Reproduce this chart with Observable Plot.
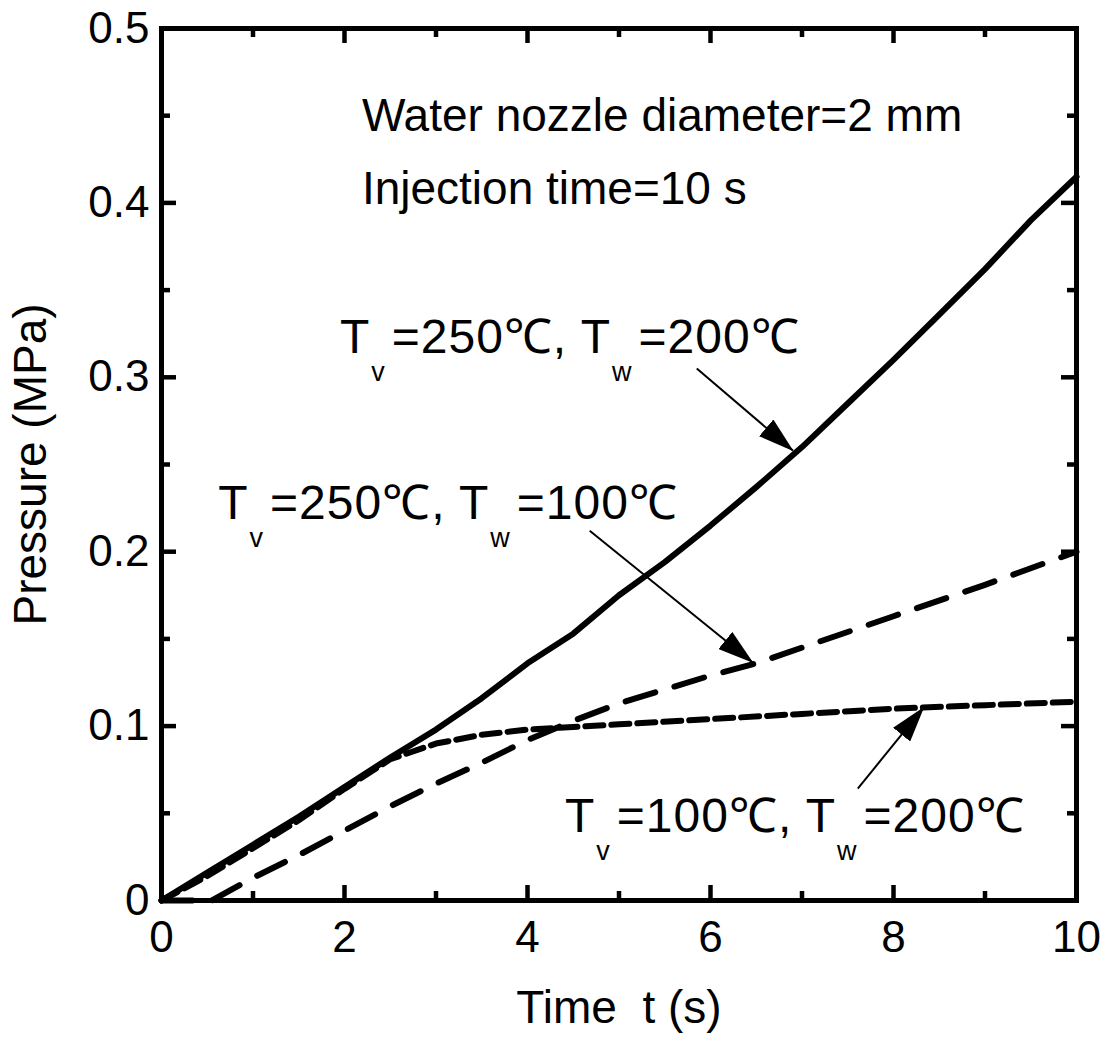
<!DOCTYPE html>
<html><head><meta charset="utf-8">
<script src="https://cdn.jsdelivr.net/npm/d3@7"></script>
<script src="https://cdn.jsdelivr.net/npm/@observablehq/plot@0.6"></script>
<style>
body{margin:0;background:#fff;}
#chart svg{font-family:"Liberation Sans",Arial,Helvetica,sans-serif;}
</style>
</head><body><div id="chart"></div>
<script>
// Series: Tv=250℃, Tw=200℃ (solid)
const timeA = [0,0.5,1,1.5,2,2.5,3,3.5,4,4.5,5,5.5,6,6.5,7,7.5,8,8.5,9,9.5,10];
const presA = [0,0.016,0.032,0.048,0.065,0.082,0.098,0.116,0.136,0.153,0.175,0.194,0.215,0.237,0.26,0.285,0.31,0.336,0.362,0.39,0.415];
// Series: Tv=250℃, Tw=100℃ (dashed)
const timeB = [0,0.55,1,1.5,2,2.5,3,3.5,4,4.5,5,5.5,6,6.5,7,8,9,10];
const presB = [0,0,0.013,0.026,0.04,0.054,0.067,0.079,0.092,0.103,0.113,0.121,0.129,0.136,0.145,0.163,0.181,0.2];
// Series: Tv=100℃, Tw=200℃ (short dashes)
const timeC = [0,0.5,1,1.5,2,2.5,3,3.5,4,5,6,7,8,9,10];
const presC = [0,0.014,0.03,0.046,0.064,0.081,0.09,0.095,0.098,0.101,0.104,0.107,0.11,0.112,0.114];

const xMajor = [0,2,4,6,8,10];
const xMinor = [1,3,5,7,9];
const yMajor = [0,0.1,0.2,0.3,0.4,0.5];
const yMinor = [0.05,0.15,0.25,0.35,0.45];
const yLabels = ["0","0.1","0.2","0.3","0.4","0.5"];

const notes = ["Water nozzle diameter=2 mm","Injection time=10 s"];
const notesX = [2.19,2.19];
const notesY = [0.4415,0.3995];

const labels = ["T_v=250℃, T_w=200℃","T_v=250℃, T_w=100℃","T_v=100℃, T_w=200℃"];
const labelX = [1.95,0.62,4.41];
const labelY = [0.3142,0.219,0.039];

const arrowX1 = [5.85,4.68,7.61];
const arrowY1 = [0.305,0.212,0.0642];
const arrowX2 = [6.90,6.46,8.33];
const arrowY2 = [0.258,0.1365,0.1107];

const W = 1109, H = 1037;
const mL = 161, mR = 33, mT = 28, mB = 137;
const innerW = W - mL - mR, innerH = H - mT - mB;

const dA = timeA.map((t,i)=>({t, p: presA[i]}));
const dB = timeB.map((t,i)=>({t, p: presB[i]}));
const dC = timeC.map((t,i)=>({t, p: presC[i]}));
const dNotes = notes.map((s,i)=>({s, x: notesX[i], y: notesY[i]}));
const dLabels = labels.map((s,i)=>({s, x: labelX[i], y: labelY[i]}));
const dArrows = arrowX1.map((x1,i)=>({x1, y1: arrowY1[i], x2: arrowX2[i], y2: arrowY2[i]}));

const majorLen = 15, minorLen = 9, tickW = 4.5;

const plot = Plot.plot({
  width: W, height: H,
  marginLeft: mL, marginRight: mR, marginTop: mT, marginBottom: mB,
  style: {fontFamily: '"Liberation Sans",Arial,Helvetica,sans-serif', background: "#fff", color: "#000"},
  x: {domain: [0,10], ticks: xMajor, label: null},
  y: {domain: [0,0.5], ticks: yMajor, label: null},
  marks: [
    // ticks (inward, all four sides)
    Plot.tickX(xMajor, {x: d=>d, insetTop: innerH - majorLen, stroke: "#000", strokeWidth: tickW}),
    Plot.tickX(xMinor, {x: d=>d, insetTop: innerH - minorLen, stroke: "#000", strokeWidth: tickW}),
    Plot.tickX(xMajor, {x: d=>d, insetBottom: innerH - majorLen, stroke: "#000", strokeWidth: tickW}),
    Plot.tickX(xMinor, {x: d=>d, insetBottom: innerH - minorLen, stroke: "#000", strokeWidth: tickW}),
    Plot.tickY(yMajor, {y: d=>d, insetRight: innerW - majorLen, stroke: "#000", strokeWidth: tickW}),
    Plot.tickY(yMinor, {y: d=>d, insetRight: innerW - minorLen, stroke: "#000", strokeWidth: tickW}),
    Plot.tickY(yMajor, {y: d=>d, insetLeft: innerW - majorLen, stroke: "#000", strokeWidth: tickW}),
    Plot.tickY(yMinor, {y: d=>d, insetLeft: innerW - minorLen, stroke: "#000", strokeWidth: tickW}),
    Plot.axisX({ticks: xMajor, tickSize: 0, tickPadding: 20, fontSize: 44, label: "Time  t (s)", labelAnchor: "center", labelArrow: "none", labelOffset: 122}),
    Plot.axisY({ticks: yMajor, tickSize: 0, tickPadding: 12, fontSize: 44, tickFormat: (d)=>yLabels[yMajor.indexOf(d)], label: "Pressure (MPa)", labelAnchor: "center", labelArrow: "none", labelOffset: 148}),
    // data lines
    Plot.line(dC, {x: "t", y: "p", stroke: "#000", strokeWidth: 6, strokeDasharray: "18,8"}),
    Plot.line(dB, {x: "t", y: "p", stroke: "#000", strokeWidth: 6, strokeDasharray: "31,20"}),
    Plot.line(dA, {x: "t", y: "p", stroke: "#000", strokeWidth: 6}),
    // annotation arrows
    Plot.link(dArrows, {x1: "x1", y1: "y1", x2: "x2", y2: "y2", stroke: "#000", strokeWidth: 2}),
    // annotation texts
    Plot.text(dNotes, {x: "x", y: "y", text: "s", textAnchor: "start", lineAnchor: "bottom", fontSize: 46, fill: "#000"}),
    Plot.text(dLabels, {x: "x", y: "y", text: "s", textAnchor: "start", lineAnchor: "bottom", fontSize: 48, fill: "#000"}),
    Plot.frame({stroke: "#000", strokeWidth: 5})
  ]
});

// axis title font sizes
plot.querySelectorAll('g[aria-label="x-axis label"] text, g[aria-label="y-axis label"] text').forEach(t=>{t.setAttribute("font-size", 46);});

// arrowheads: filled triangles
const ns = "http://www.w3.org/2000/svg";
const defs = document.createElementNS(ns, "defs");
const marker = document.createElementNS(ns, "marker");
marker.setAttribute("id", "ahead");
marker.setAttribute("viewBox", "0 0 36 22");
marker.setAttribute("refX", "35");
marker.setAttribute("refY", "11");
marker.setAttribute("markerUnits", "userSpaceOnUse");
marker.setAttribute("markerWidth", "36");
marker.setAttribute("markerHeight", "22");
marker.setAttribute("orient", "auto");
const mp = document.createElementNS(ns, "path");
mp.setAttribute("d", "M0,0L36,11L0,22Z");
mp.setAttribute("fill", "#000");
marker.appendChild(mp);
defs.appendChild(marker);
plot.insertBefore(defs, plot.firstChild);
plot.querySelectorAll('g[aria-label="link"] path').forEach(p=>p.setAttribute("marker-end","url(#ahead)"));

// subscripts in labels: "T_v" -> T with subscript v
plot.querySelectorAll('g[aria-label="text"] text').forEach(t=>{
  const s = t.textContent;
  if (!s.includes("_")) return;
  t.setAttribute("letter-spacing", "1");
  const parts = s.split(/(_[a-z])/);
  t.textContent = "";
  let sub = false;
  parts.forEach(part=>{
    if (!part) return;
    const ts = document.createElementNS(ns, "tspan");
    if (part.startsWith("_")) {
      ts.textContent = part.slice(1);
      ts.setAttribute("font-size", 27);
      ts.setAttribute("dx", 1);
      ts.setAttribute("dy", 28);
      sub = true;
    } else {
      ts.textContent = part;
      if (sub) { ts.setAttribute("dy", -28); ts.setAttribute("dx", 6); }
      sub = false;
    }
    t.appendChild(ts);
  });
});

document.getElementById("chart").appendChild(plot);
</script>
</body></html>
